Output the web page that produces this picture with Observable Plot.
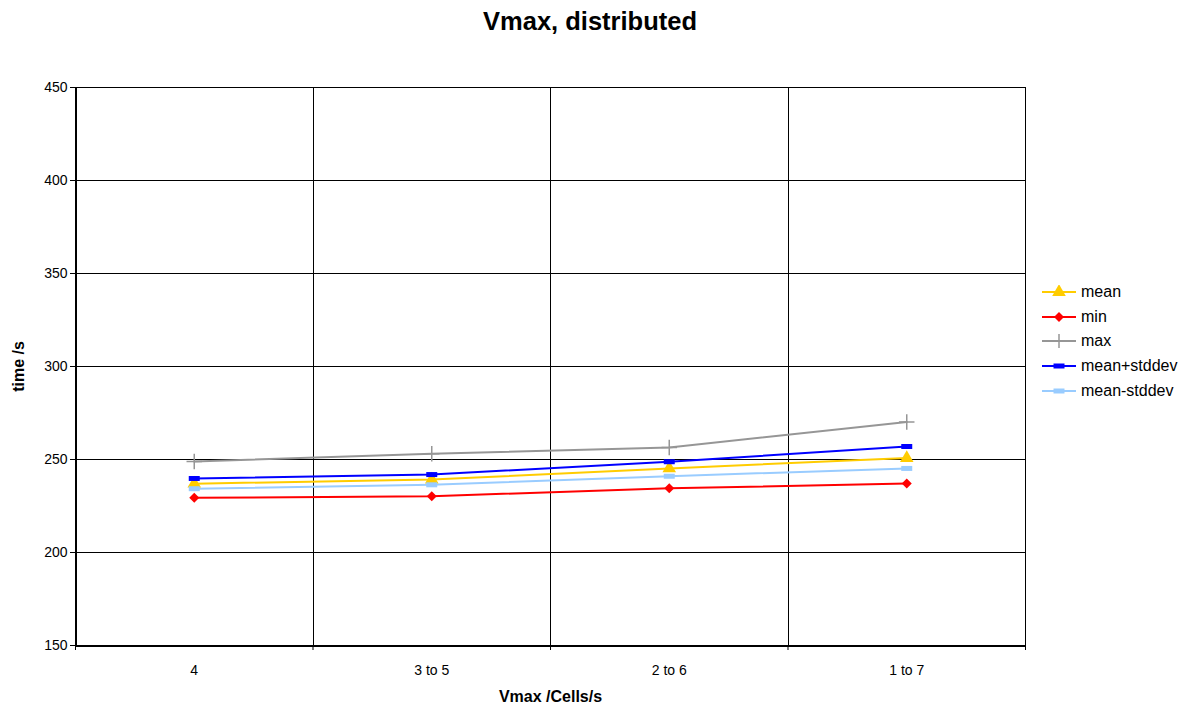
<!DOCTYPE html>
<html><head><meta charset="utf-8">
<script src="https://cdn.jsdelivr.net/npm/d3@7"></script>
<script src="https://cdn.jsdelivr.net/npm/@observablehq/plot@0.6"></script>
<style>
body{margin:0;background:#fff;font-family:"Liberation Sans",Arial,sans-serif}
#wrap{position:relative;width:1188px;height:711px;overflow:hidden}
#title{position:absolute;top:7px;left:-4px;width:1188px;text-align:center;font-weight:bold;font-size:25.5px;color:#000}
#chart{position:absolute;top:40px;left:0}
#chart svg text{font-size:14px}
#legend{position:absolute;left:1040px;top:280px;font-size:16px;color:#000}
.li{height:24.6px;display:flex;align-items:center}
.li svg{margin-right:3px}
</style></head>
<body>
<div id="wrap">
<div id="title">Vmax, distributed</div>
<div id="chart"></div>
<div id="legend"></div>
</div>
<script>
const categories = ["4", "3 to 5", "2 to 6", "1 to 7"];
const meanValues = [237, 239.2, 245.2, 250.8];
const minValues = [229.4, 230.3, 234.5, 237.1];
const maxValues = [248.9, 253.1, 256.5, 270.2];
const meanPlusStd = [239.8, 241.9, 248.8, 257.0];
const meanMinusStd = [234.3, 236.4, 241.0, 245.2];
const yTicks = [150, 200, 250, 300, 350, 400, 450];

const seriesNames = ["mean", "min", "max", "mean+stddev", "mean-stddev"];
const seriesValues = [meanValues, minValues, maxValues, meanPlusStd, meanMinusStd];
const colors = {"mean": "#FFCC00", "min": "#FF0000", "max": "#969696", "mean+stddev": "#0000FF", "mean-stddev": "#99CCFF"};

const dash = {draw(ctx, size) { ctx.rect(-5.5, -2.5, 11, 5); }};
const symbols = {"mean": "triangle", "min": "diamond2", "max": "plus", "mean+stddev": dash, "mean-stddev": dash};
const symSize = {"mean": 80, "min": 64, "max": 80, "mean+stddev": 40, "mean-stddev": 40};

const data = [];
seriesNames.forEach((s, si) => categories.forEach((c, i) => data.push({series: s, idx: i, cat: c, value: seriesValues[si][i]})));

const boundaries = d3.range(categories.length + 1).map(i => i - 0.5);

const marks = [
  Plot.ruleY(yTicks, {stroke: "#000", strokeWidth: 1, shapeRendering: "crispEdges"}),
  Plot.ruleX(boundaries, {y1: 150, y2: 450, stroke: "#000", strokeWidth: 1, shapeRendering: "crispEdges"}),
  Plot.axisY({ticks: yTicks, tickSize: 5, tickPadding: 3, label: null, fontSize: 14}),
  Plot.axisX({ticks: d3.range(categories.length), tickFormat: i => categories[i], tickSize: 0, tickPadding: 20, label: null, fontSize: 14}),
  Plot.axisX(boundaries, {tickFormat: () => "", tickSize: 5, label: null}),
  Plot.ruleX([-0.5], {y1: 150, y2: 450, stroke: "#000", strokeWidth: 2, shapeRendering: "crispEdges"}),
  Plot.ruleY([150], {stroke: "#000", strokeWidth: 2, shapeRendering: "crispEdges"}),
  Plot.line(data, {x: "idx", y: "value", z: "series", stroke: d => colors[d.series], strokeWidth: 2}),
];
seriesNames.forEach(s => {
  const d = data.filter(r => r.series === s);
  const isStroke = s === "max";
  marks.push(Plot.dot(d, {x: "idx", y: "value", symbol: () => symbols[s], r: Math.sqrt(symSize[s] / Math.PI),
    fill: isStroke ? "none" : colors[s], stroke: isStroke ? colors[s] : "none", strokeWidth: isStroke ? 1.5 : 0}));
});
marks.push(Plot.text(["time /s"], {frameAnchor: "left", dx: -57, rotate: -90, textAnchor: "middle", fontWeight: "bold", fontSize: 14}));
marks.push(Plot.text(["Vmax /Cells/s"], {frameAnchor: "bottom", dy: 56, fontWeight: "bold", fontSize: 14}));

const chart = Plot.plot({
  width: 1188, height: 671,
  marginLeft: 75, marginRight: 163, marginTop: 47, marginBottom: 66,
  style: {fontFamily: "'Liberation Sans', Arial, sans-serif", fontSize: "14px", color: "#000", background: "#fff", overflow: "visible"},
  x: {type: "linear", domain: [-0.5, categories.length - 0.5], axis: null},
  y: {domain: [150, 450], axis: null},
  symbol: {type: "identity"},
  marks
});
document.getElementById("chart").appendChild(chart);
// bold axis labels slightly larger
d3.select(chart).selectAll("text").filter(function() { return d3.select(this.parentNode).attr("font-weight") === "bold" || this.getAttribute("font-weight") === "bold"; }).style("font-size", "16px");

// legend
const leg = document.getElementById("legend");
seriesNames.forEach(s => {
  const row = document.createElement("div");
  row.className = "li";
  const svg = d3.create("svg").attr("width", 38).attr("height", 14);
  svg.append("line").attr("x1", 2).attr("x2", 36).attr("y1", 7).attr("y2", 7).attr("stroke", colors[s]).attr("stroke-width", 2);
  const sym = symbols[s];
  const t = d3.symbol(typeof sym === "string" ? {triangle: d3.symbolTriangle, diamond2: d3.symbolDiamond2, plus: d3.symbolPlus}[sym] : sym, symSize[s])();
  svg.append("path").attr("d", t).attr("transform", "translate(19,7)")
    .attr("fill", s === "max" ? "none" : colors[s]).attr("stroke", s === "max" ? colors[s] : "none").attr("stroke-width", 1.5);
  row.appendChild(svg.node());
  const span = document.createElement("span");
  span.textContent = s;
  row.appendChild(span);
  leg.appendChild(row);
});
</script>
</body></html>
